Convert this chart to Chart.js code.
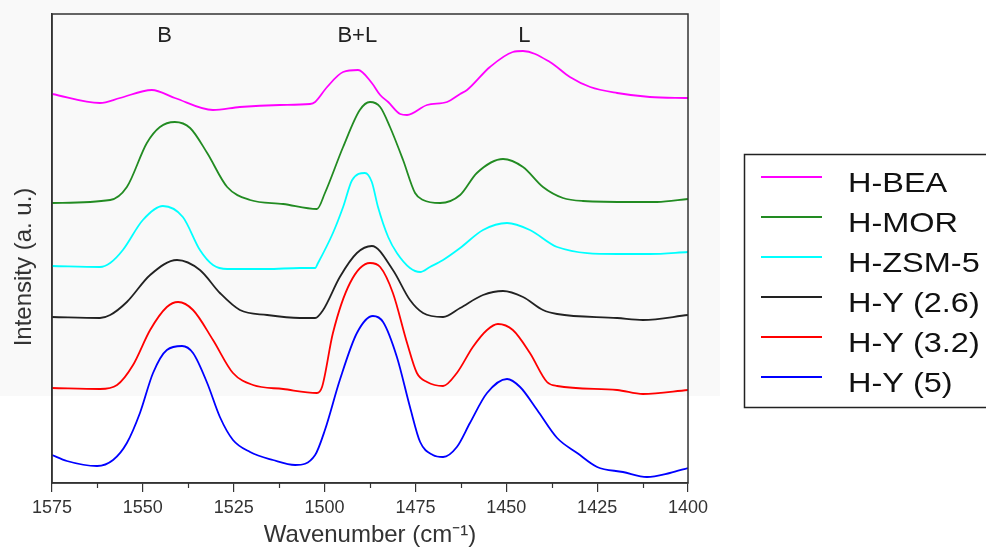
<!DOCTYPE html>
<html>
<head>
<meta charset="utf-8">
<script src="https://cdn.jsdelivr.net/npm/chart.js@4/dist/chart.umd.min.js"></script>
<style>
  html, body { margin: 0; padding: 0; background: #fff; }
  #wrap { width: 986px; height: 550px; position: relative; }
</style>
</head>
<body>
<div id="wrap"><canvas id="chart"></canvas></div>
<script>
// Data: [wavenumber (cm-1), intensity (a.u., offset-stacked)]
const hBEA = [[1575,389],[1561.8,380],[1556.3,385],[1547.5,393],[1541.2,385],[1530.7,373],[1523.3,376],
  [1512.3,378],[1504.0,379],[1502.6,381],[1499.3,396],[1494.9,411],[1490.8,413],[1487.0,400],[1484.7,388],
  [1482.5,381],[1479.2,369],[1477.3,368],[1471.8,378],[1466.3,381],[1462.7,389],[1460.8,393],[1454.5,416],
  [1448.2,431],[1445.4,432],[1438.0,421],[1432.5,406],[1426.9,396],[1419.5,390],[1410.5,386],[1400,385]];
const hMOR = [[1575,280],[1559.0,283],[1554.4,296],[1548.9,340],[1545.3,356],[1541.2,361],[1537.0,355],
  [1532.3,330],[1526.8,296],[1520.5,283],[1511.4,279],[1502.1,274],[1499.9,290],[1494.9,336],[1490.3,373],
  [1487.5,381],[1484.7,376],[1482.0,356],[1478.4,323],[1475.1,290],[1472.9,283],[1468.2,280],[1462.7,288],
  [1458.1,310],[1450.9,324],[1445.4,316],[1439.9,296],[1434.4,285],[1428.9,282],[1415.1,281],[1408.5,281],
  [1400,284]];
const hZSM5 = [[1575,217],[1561.8,216],[1559.0,220],[1555.5,233],[1550.0,263],[1544.5,277],[1539.0,266],
  [1534.3,233],[1530.7,218],[1526.8,214],[1515.8,214],[1506.8,215],[1502.6,215],[1501.8,220],[1497.7,250],
  [1494.9,276],[1492.4,303],[1488.9,310],[1487.0,301],[1485.3,276],[1482.5,246],[1480.1,230],[1476.5,215],
  [1473.7,211],[1471.0,216],[1467.4,223],[1462.7,235],[1456.4,253],[1449.8,260],[1443.5,253],[1436.0,236],
  [1419.5,229],[1410.5,229],[1400,231]];
const hY26 = [[1575,166],[1561.8,165],[1559.0,168],[1554.4,181],[1548.0,208],[1540.6,223],[1534.3,213],
  [1528.8,190],[1523.3,173],[1515.8,168],[1506.8,165],[1502.6,165],[1500.4,173],[1495.8,206],[1491.1,230],
  [1487.0,237],[1481.2,213],[1476.5,183],[1472.9,170],[1467.4,166],[1462.7,175],[1456.4,188],[1450.9,192],
  [1445.4,186],[1439.9,173],[1436.0,169],[1419.5,165],[1412.4,163],[1400,168]];
const hY32 = [[1575,95],[1561.8,94],[1557.1,98],[1552.7,118],[1548.0,153],[1543.4,176],[1540.3,181],
  [1536.2,173],[1530.7,143],[1525.2,110],[1519.7,98],[1511.4,94],[1502.1,90],[1500.7,96],[1497.7,150],
  [1493.0,200],[1487.5,220],[1484.7,216],[1481.2,190],[1477.3,140],[1474.6,110],[1471.8,101],[1467.4,97],
  [1463.6,110],[1459.2,136],[1455.3,153],[1452.3,159],[1448.2,153],[1443.5,130],[1438.8,101],[1436.0,97],
  [1419.5,93],[1412.4,89],[1400,93]];
const hY5 = [[1575,28],[1570.9,22],[1562.6,17],[1558.2,23],[1554.4,40],[1550.8,70],[1547.2,110],[1543.4,133],
  [1539.2,137],[1536.2,130],[1532.3,100],[1528.8,66],[1525.2,43],[1520.5,31],[1514.2,23],[1508.1,18],
  [1502.6,28],[1499.9,53],[1495.8,103],[1491.1,150],[1486.7,167],[1483.9,161],[1480.1,126],[1476.5,76],
  [1473.7,41],[1470.2,28],[1467.4,26],[1463.6,36],[1460.0,60],[1455.3,90],[1449.8,104],[1446.2,96],
  [1441.5,73],[1436.0,45],[1430.5,30],[1425.0,16],[1417.9,11],[1411.3,6],[1405.0,10],[1400,15]];

const seriesNames = ['H-BEA', 'H-MOR', 'H-ZSM-5', 'H-Y (2.6)', 'H-Y (3.2)', 'H-Y (5)'];
const seriesData = [hBEA, hMOR, hZSM5, hY26, hY32, hY5];
const seriesColors = ['#ff00ff', '#228b22', '#00ffff', '#222222', '#ff0000', '#0000ff'];

// Band labels above the peaks
const bandLabels = ['B', 'B+L', 'L'];
const bandPositions = [1544, 1491, 1445];

const X_MIN = 1400, X_MAX = 1575;
const X_TITLE = 'Wavenumber (cm\u207B\u00B9)';
const Y_TITLE = 'Intensity (a. u.)';
const FONT = '"Liberation Sans", Arial, sans-serif';

/** Background, frame, minor ticks, titles, band labels, legend */
const decor = {
  id: 'decor',
  beforeDraw(chart) {
    const c = chart.ctx;
    c.save();
    c.fillStyle = '#ffffff';
    c.fillRect(0, 0, chart.width, chart.height);
    c.fillStyle = '#f9f9f9';
    c.fillRect(0, 0, 720, 396);
    c.restore();
  },
  afterDraw(chart) {
    const c = chart.ctx;
    const a = chart.chartArea;
    const xs = chart.scales.x;
    c.save();
    // frame
    c.strokeStyle = '#333';
    c.lineWidth = 1.5;
    c.strokeRect(a.left, a.top, a.right - a.left, a.bottom - a.top);
    // minor ticks
    c.lineWidth = 1.2;
    for (let v = X_MIN + 12.5; v < X_MAX; v += 25) {
      const px = Math.round(xs.getPixelForValue(v)) + 0.5;
      c.beginPath();
      c.moveTo(px, a.bottom);
      c.lineTo(px, a.bottom + 5);
      c.stroke();
    }
    // axis titles
    c.fillStyle = '#333';
    c.font = `24px ${FONT}`;
    c.textAlign = 'center';
    c.textBaseline = 'alphabetic';
    c.fillText(X_TITLE, (a.left + a.right) / 2, 542);
    c.save();
    c.translate(31, 267);
    c.rotate(-Math.PI / 2);
    c.fillText(Y_TITLE, 0, 0);
    c.restore();
    // band labels
    c.fillStyle = '#222';
    c.font = `22px ${FONT}`;
    bandLabels.forEach((t, i) => c.fillText(t, xs.getPixelForValue(bandPositions[i]), 42));
    // legend box
    c.strokeStyle = '#222';
    c.lineWidth = 1.5;
    c.strokeRect(744.5, 154.5, 260, 253);
    c.font = `28px ${FONT}`;
    c.textAlign = 'left';
    chart.data.datasets.forEach((ds, i) => {
      const y = 177 + i * 40;
      c.strokeStyle = ds.borderColor;
      c.lineWidth = 2.2;
      c.beginPath();
      c.moveTo(761, y);
      c.lineTo(822, y);
      c.stroke();
      c.fillStyle = '#111';
      c.save();
      c.translate(848, y + 15);
      c.scale(1.16, 1);
      c.fillText(ds.label, 0, 0);
      c.restore();
    });
    c.restore();
  }
};

new Chart(document.getElementById('chart'), {
  type: 'line',
  data: {
    datasets: seriesNames.map((name, i) => ({
      label: name,
      data: seriesData[i].map(p => ({ x: p[0], y: p[1] })),
      borderColor: seriesColors[i],
      borderWidth: 1.8,
      pointRadius: 0,
      cubicInterpolationMode: 'monotone',
      fill: false
    }))
  },
  options: {
    responsive: true,
    maintainAspectRatio: false,
    animation: false,
    layout: { padding: { top: 14, right: 298, left: 0, bottom: 0 } },
    scales: {
      x: {
        type: 'linear',
        reverse: true,
        min: X_MIN,
        max: X_MAX,
        afterFit: s => { s.height = 67; },
        border: { display: true, color: '#333', width: 1.5 },
        grid: { display: true, drawOnChartArea: false, drawTicks: true, tickLength: 9, color: '#333', lineWidth: 1.2 },
        ticks: {
          stepSize: 25,
          padding: 5,
          color: '#333',
          font: { family: FONT, size: 18 },
          maxRotation: 0,
          callback: v => String(v)
        },
        title: { display: false }
      },
      y: {
        min: 0,
        max: 469,
        afterFit: s => { s.width = 52; },
        border: { display: true, color: '#333', width: 1.5 },
        grid: { display: false },
        ticks: { display: false },
        title: { display: false }
      }
    },
    plugins: {
      legend: { display: false },
      tooltip: { enabled: false }
    }
  },
  plugins: [decor]
});
</script>
</body>
</html>
